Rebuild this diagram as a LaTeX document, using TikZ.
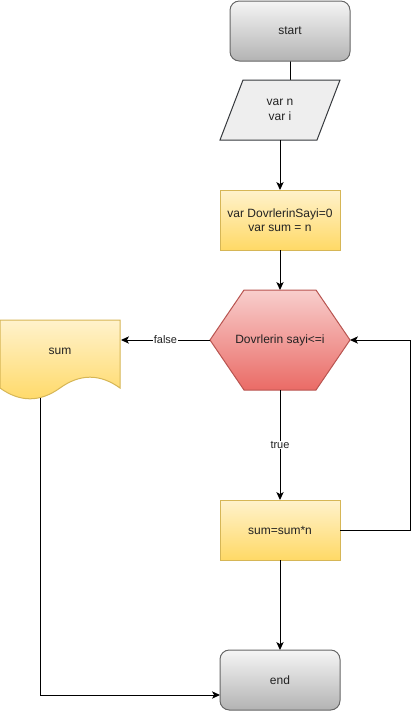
\documentclass[tikz,border=0pt]{standalone}
\usepackage{fontspec}
\setmainfont{Liberation Sans}
\usetikzlibrary{arrows.meta,calc}
\definecolor{termTop}{HTML}{F5F5F5}
\definecolor{termBot}{HTML}{B3B3B3}
\definecolor{termStroke}{HTML}{666666}
\definecolor{yTop}{HTML}{FFF2CC}
\definecolor{yBot}{HTML}{FFD966}
\definecolor{yStroke}{HTML}{D6B656}
\definecolor{hexTop}{HTML}{F8CECC}
\definecolor{hexBot}{HTML}{EA6B66}
\definecolor{hexStroke}{HTML}{B85450}
\definecolor{paraFill}{HTML}{EEEEEE}
\definecolor{paraStroke}{HTML}{36393D}
\definecolor{txt}{HTML}{222222}
\pgfdeclarelayer{bg}
\pgfdeclarelayer{shapes}
\pgfsetlayers{bg,shapes,main}
\tikzset{
  base/.style={font=\fontsize{9}{10.8}\selectfont, text=txt, inner sep=0pt, outer sep=0pt, align=center},
  term/.style={base, draw=termStroke, line width=0.75pt, top color=termTop, bottom color=termBot, rounded corners=7pt, minimum width=90pt, minimum height=45pt},
  proc/.style={base, draw=yStroke, line width=0.75pt, top color=yTop, bottom color=yBot, minimum width=90pt, minimum height=45pt},
  box/.style={base, minimum width=90pt, minimum height=45pt},
  conn/.style={line width=0.75pt, -{Stealth[length=6pt,width=5.5pt,inset=1.6pt]}},
  lbl/.style={fill=white, text=txt, font=\fontsize{8.25}{10}\selectfont, inner sep=0.5pt},
  shapeline/.style={line width=0.75pt}
}
\begin{document}
\begin{tikzpicture}[x=0.75pt,y=-0.75pt]
\useasboundingbox (0,0) rectangle (419,711);
% nodes
\node[term] (start) at (290,31) {start};
\node[box] (para) at (280,110) {var n\\var i};
\node[proc] (r1) at (280,220) {var DovrlerinSayi=0\\var sum = n};
\node[base, minimum width=105pt, minimum height=75pt] (hex) at (280,340) {Dovrlerin sayi<=i};
\node[box] (doc) at (60,351) {sum};
\node[proc] (r2) at (280,530) {sum=sum*n};
\node[term] (end) at (280,680) {end};
\coordinate (docbot) at (40,397.6);
% shapes
\begin{pgfonlayer}{shapes}
\path[shapeline, draw=paraStroke, fill=paraFill] (para.south west) -- ($(para.north west)+(23,0)$) -- (para.north east) -- ($(para.south east)+(-23,0)$) -- cycle;
\path[shapeline, draw=hexStroke, top color=hexTop, bottom color=hexBot] (hex.west) -- ($(hex.north west)+(34,0)$) -- ($(hex.north east)+(-34,0)$) -- (hex.east) -- ($(hex.south east)+(-34,0)$) -- ($(hex.south west)+(34,0)$) -- cycle;
\path[shapeline, draw=yStroke, top color=yTop, bottom color=yBot] (0,320) -- (120,320) -- (120,388) .. controls (100,373.6) and (80,373.6) .. (60,388) .. controls (40,402.4) and (20,402.4) .. (0,388) -- cycle;
\end{pgfonlayer}
% connectors
\begin{pgfonlayer}{bg}
\draw[conn] (start.south) -- ($(start.south |- para.north)+(0,9)$);
\end{pgfonlayer}
\draw[conn] (para.south) -- (r1.north);
\draw[conn] (r1.south) -- (hex.north);
\draw[conn] (hex.west) -- node[lbl]{false} ($(hex.west -| doc.east)+(1,0)$);
\draw[conn] (hex.south) -- node[lbl]{true} (r2.north);
\draw[conn] (r2.east) -- ++(70,0) |- (hex.east);
\draw[conn] (r2.south) -- (end.north);
\draw[conn] (docbot) |- ($(end.south west)+(0,-15)$);
\end{tikzpicture}
\end{document}
